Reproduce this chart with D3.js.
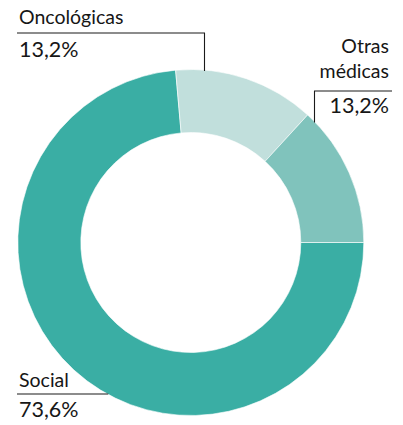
<!DOCTYPE html>
<html>
<head>
<meta charset="utf-8">
<script src="https://cdn.jsdelivr.net/npm/d3@7"></script>
<style>
  html, body { margin: 0; padding: 0; background: #fff; }
  svg { display: block; }
  text { font-family: Lato, "Open Sans", sans-serif; fill: #161616; }
</style>
</head>
<body>
<svg id="chart" width="403" height="425"></svg>
<script>
// Distribution by area
const categories = ["Social", "Oncológicas", "Otras médicas"];
const values = [73.6, 13.2, 13.2];
const valueLabels = ["73,6%", "13,2%", "13,2%"];
const colors = ["#3aaea4", "#c1dfdc", "#80c3bc"];

const svg = d3.select("#chart");
const cx = 190.8, cy = 242.5, rOuter = 173, rInner = 110;

const data = categories.map((c, i) => ({ name: c, value: values[i], label: valueLabels[i], color: colors[i] }));

// Pie starts at 3 o'clock and runs clockwise, in data order
const pie = d3.pie().value(d => d.value).sort(null)
  .startAngle(Math.PI / 2).endAngle(Math.PI / 2 + 2 * Math.PI);
const arc = d3.arc().innerRadius(rInner).outerRadius(rOuter);
const arcs = pie(data);

const g = svg.append("g").attr("transform", `translate(${cx},${cy})`);
g.selectAll("path").data(arcs).join("path")
  .attr("d", arc)
  .attr("fill", d => d.data.color)
  .attr("stroke", "#ffffff")
  .attr("stroke-width", 0.6);

// Point on the outer rim at a given x (top half) or y (left side)
function rimYAtX(x) { const dx = x - cx; return cy - Math.sqrt(rOuter * rOuter - dx * dx); }
function rimXAtY(y) { const dy = y - cy; return cx - Math.sqrt(rOuter * rOuter - dy * dy); }

const line = (pts) => svg.append("path")
  .attr("d", d3.line()(pts))
  .attr("fill", "none").attr("stroke", "#1a1a1a").attr("stroke-width", 1.1);

const nameSize = 19.5, valueSize = 21.5;

// Oncológicas callout
line([[17, 33], [204.5, 33], [204.5, rimYAtX(204.5) + 1]]);
svg.append("text").attr("x", 19).attr("y", 24).attr("font-size", nameSize).text(categories[1]);
svg.append("text").attr("x", 19).attr("y", 57).attr("font-size", valueSize).text(valueLabels[1]);

// Otras médicas callout
line([[392, 91], [314.5, 91], [314.5, rimYAtX(314.5) + 1]]);
svg.append("text").attr("x", 389).attr("y", 53).attr("font-size", nameSize).attr("text-anchor", "end").text("Otras");
svg.append("text").attr("x", 389).attr("y", 78).attr("font-size", nameSize).attr("text-anchor", "end").text("médicas");
svg.append("text").attr("x", 389).attr("y", 113).attr("font-size", valueSize).attr("text-anchor", "end").text(valueLabels[2]);

// Social callout
line([[17, 394], [rimXAtY(394) + 1, 394]]);
svg.append("text").attr("x", 19).attr("y", 387).attr("font-size", nameSize).text(categories[0]);
svg.append("text").attr("x", 19).attr("y", 417).attr("font-size", valueSize).text(valueLabels[0]);
</script>
</body>
</html>
